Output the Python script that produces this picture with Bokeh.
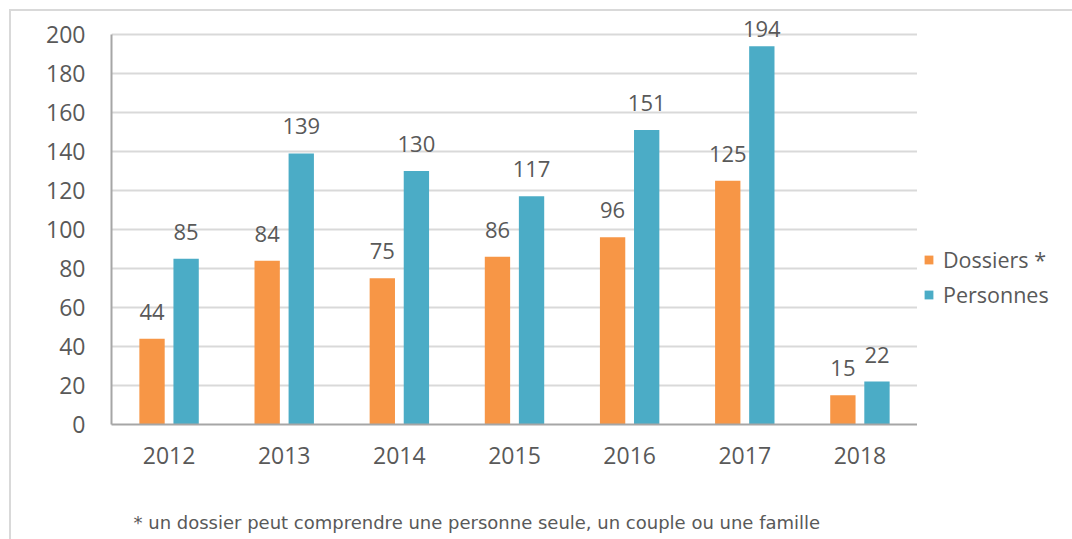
import numpy as np
from bokeh.plotting import figure
from bokeh.layouts import row, column
from bokeh.models import (ColumnDataSource, FactorRange, Range1d, SingleIntervalTicker, Legend,
                          LegendItem, Label)
from bokeh.transform import dodge
from bokeh.core.properties import value
from bokeh.embed import file_html
from bokeh.resources import INLINE

years = ["2012", "2013", "2014", "2015", "2016", "2017", "2018"]
dossiers = [44, 84, 75, 86, 96, 125, 15]
personnes = [85, 139, 130, 117, 151, 194, 22]
series_names = ["Dossiers *", "Personnes"]
footnote = "* un dossier peut comprendre une personne seule, un couple ou une famille"

ORANGE = "#F79646"
TEAL = "#4BACC6"
TXT = "#595959"
FONT = "Open Sans"

PXU = 1.95  # pixels per unit
src = ColumnDataSource(dict(
    year=years, dossiers=dossiers, personnes=personnes,
    dossiers_lbl=[str(v) for v in dossiers],
    personnes_lbl=[str(v) for v in personnes],
    dossiers_y=np.minimum(np.array(dossiers) + 27 / PXU, 200 + 6 / PXU),
    personnes_y=np.minimum(np.array(personnes) + 27 / PXU, 200 + 6 / PXU),
))

# ---- main chart
p = figure(width=906, height=473, x_range=FactorRange(factors=years, range_padding=0),
           y_range=Range1d(0, 200 + 23 / PXU), output_backend="svg", toolbar_location=None,
           min_border_left=100, min_border_right=0, min_border_top=0, min_border_bottom=60)
p.outline_line_color = None
p.background_fill_color = "white"
p.border_fill_color = "white"

off = 0.148
w = 0.22
p.vbar(x=dodge("year", -off, range=p.x_range), top="dossiers", width=w, source=src,
       fill_color=ORANGE, line_color=None)
p.vbar(x=dodge("year", off, range=p.x_range), top="personnes", width=w, source=src,
       fill_color=TEAL, line_color=None)

for col, d in (("dossiers", -off), ("personnes", off)):
    p.text(x=dodge("year", d, range=p.x_range), y=col + "_y", text=col + "_lbl", source=src,
           text_align="center", text_baseline="alphabetic", text_font=value(FONT),
           text_font_size="22px", text_color=TXT)

p.yaxis.ticker = SingleIntervalTicker(interval=20)
p.yaxis.bounds = (0, 200)
p.ygrid.grid_line_color = "#d9d9d9"
p.ygrid.grid_line_width = 2
p.xgrid.grid_line_color = None
for ax in (p.xaxis, p.yaxis):
    ax.axis_line_color = "#a6a6a6"
    ax.axis_line_width = 2
    ax.major_tick_line_color = None
    ax.minor_tick_line_color = None
    ax.major_label_text_font = FONT
    ax.major_label_text_font_size = "23px"
    ax.major_label_text_color = TXT
p.yaxis.major_label_standoff = 20
p.xaxis.major_label_standoff = 16

# ---- legend panel (zero-width bars outside its y range: only the legend shows)
p2 = figure(width=155, height=473, x_range=FactorRange(factors=years), y_range=Range1d(-2, -1),
            x_axis_type=None, y_axis_type=None, output_backend="svg", toolbar_location=None,
            min_border=0)
p2.outline_line_color = None
p2.grid.visible = False
l1 = p2.vbar(x="year", top="dossiers", width=0, source=src, fill_color=ORANGE, line_color=None)
l2 = p2.vbar(x="year", top="personnes", width=0, source=src, fill_color=TEAL, line_color=None)
lg = Legend(items=[LegendItem(label=series_names[0], renderers=[l1]),
                   LegendItem(label=series_names[1], renderers=[l2])],
            location=(6, 115))
lg.border_line_color = None
lg.background_fill_alpha = 0
lg.padding = 0
lg.margin = 0
lg.glyph_width = 11
lg.glyph_height = 11
lg.label_height = 21
lg.spacing = 6
lg.label_standoff = 9
lg.label_text_font = FONT
lg.label_text_font_size = "21.5px"
lg.label_text_color = TXT
p2.add_layout(lg, "center")

# ---- footnote panel
pf = figure(width=1061, height=55, x_axis_type=None, y_axis_type=None,
            output_backend="svg", toolbar_location=None, min_border=0)
pf.outline_line_color = None
pf.grid.visible = False
pf.add_layout(Label(x=122, y=17, x_units="screen", y_units="screen", text=footnote,
                    text_font="DejaVu Sans", text_font_size="18px", text_color=TXT,
                    text_baseline="alphabetic"))

layout = column(row(p, p2), pf,
                styles={"margin-left": "9px", "margin-top": "9px",
                        "border-left": "2px solid #d9d9d9", "border-top": "2px solid #d9d9d9"})

open("out.html", "w").write(file_html(layout, INLINE))
